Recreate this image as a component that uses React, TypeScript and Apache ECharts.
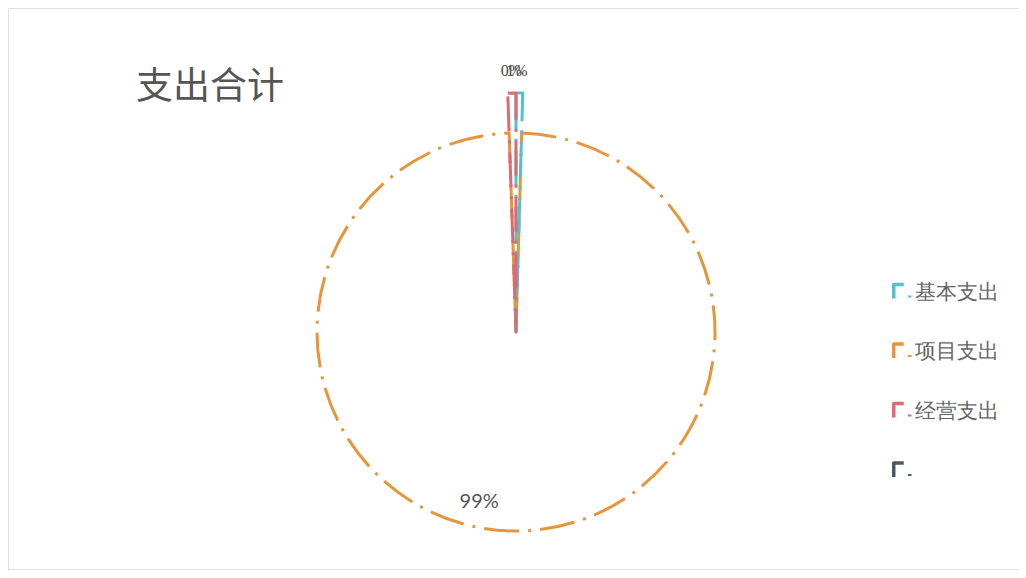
import React, { useEffect, useRef } from "react";
import * as echarts from "echarts";

const titleText = "支出合计";
const categories = ["基本支出", "项目支出", "经营支出", " "];
const values: (number | null)[] = [0.45, 99.0, 0.55, null];
const colors = ["#56bfd0", "#e8953a", "#dc6a70", "#4a5863"];
// index of the large slice drawn on the inner circle
const mainIndex = 1;

const sliceDash = [35, 9, 3, 9];
const legendDash = [24, 17, 2, 17];

const hidden = {
  itemStyle: { color: "rgba(0,0,0,0)", borderWidth: 0 },
  label: { show: false },
  labelLine: { show: false },
};

function buildData(visible: (i: number) => boolean, labelFor: (i: number) => any) {
  return categories.map((name, i) => {
    const base: any = { name, value: values[i] };
    if (!visible(i) || values[i] == null) {
      return { ...base, ...hidden };
    }
    return {
      ...base,
      itemStyle: {
        color: "rgba(0,0,0,0)",
        borderColor: colors[i],
        borderWidth: 3,
        borderType: sliceDash,
      },
      ...labelFor(i),
    };
  });
}

const fmt = (p: any) => Math.round(p.percent) + "%";

export default function App() {
  const ref = useRef<HTMLDivElement>(null);
  useEffect(() => {
    if (!ref.current) return;
    const chart = echarts.init(ref.current, null, { renderer: "svg" });
    const center = [507, 323];
    chart.setOption({
      animation: false,
      title: {
        text: titleText,
        left: 122,
        top: 50,
        textStyle: {
          fontSize: 37,
          fontWeight: "normal",
          color: "#555",
          fontFamily: "'Noto Sans CJK SC', sans-serif",
        },
      },
      legend: {
        orient: "vertical",
        left: 878,
        top: 267,
        itemWidth: 16,
        itemHeight: 14,
        itemGap: 38.5,
        itemTextGap: 8,
        symbolKeepAspect: false,
        textStyle: {
          fontSize: 21,
          color: "#666",
          fontFamily: "serif",
        },
        data: categories.map((name, i) => ({
          name,
          icon: "rect",
          itemStyle: {
            color: "#fff",
            borderColor: colors[i],
            borderWidth: 3.5,
            borderType: legendDash,
            borderDashOffset: 14,
            opacity: 1,
          },
        })),
      },
      series: [
        {
          type: "pie",
          name: "main",
          center,
          radius: [0, 199],
          startAngle: 90,
          clockwise: true,
          avoidLabelOverlap: false,
          labelLayout: { hideOverlap: false },
          emphasis: { disabled: true },
          label: {
            show: true,
            position: "outside",
            formatter: fmt,
            fontSize: 20,
            color: "#555",
            fontFamily: "Lato, sans-serif",
          },
          data: buildData(
            (i) => i === mainIndex,
            () => ({
              label: { distanceToLabelLine: -57 },
              labelLine: { show: false, length: -31, length2: 0 },
            })
          ),
        },
        {
          type: "pie",
          name: "outer",
          center,
          radius: [0, 239],
          startAngle: 90,
          clockwise: true,
          avoidLabelOverlap: false,
          labelLayout: { hideOverlap: false },
          emphasis: { disabled: true },
          label: {
            show: true,
            position: "outside",
            formatter: fmt,
            fontSize: 16,
            color: "#444",
            fontFamily: "serif",
          },
          data: buildData(
            (i) => i !== mainIndex,
            (i) => ({
              label: { distanceToLabelLine: i === 0 ? -19 : -16 },
              labelLine: { show: false, length: 23, length2: 0 },
            })
          ),
        },
      ],
    });
    return () => chart.dispose();
  }, []);
  return (
    <div
      ref={ref}
      style={{
        width: 1017,
        height: 560,
        borderTop: "1px solid #e2e2e2",
        borderLeft: "1px solid #e2e2e2",
        borderBottom: "1px solid #e2e2e2",
        background: "#fff",
      }}
    />
  );
}
